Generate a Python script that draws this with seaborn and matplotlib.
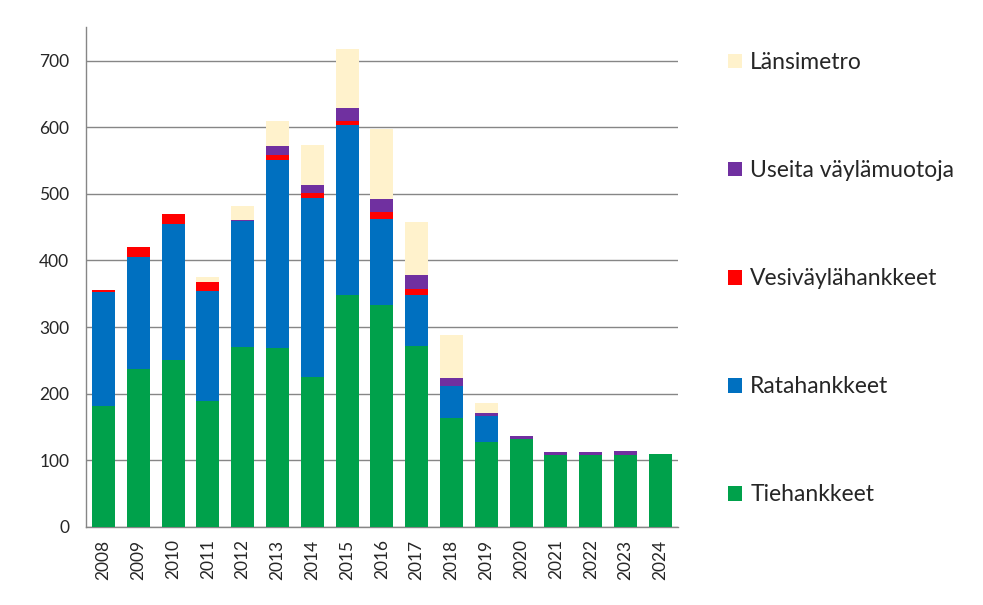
import numpy as np
import matplotlib
matplotlib.use("Agg")
import matplotlib.pyplot as plt
import seaborn as sns
from matplotlib.patches import Patch

# Data
years = ["2008", "2009", "2010", "2011", "2012", "2013", "2014", "2015", "2016",
         "2017", "2018", "2019", "2020", "2021", "2022", "2023", "2024"]
tiehankkeet = [182, 237, 251, 189, 270, 269, 225, 348, 333, 272, 164, 128, 132, 108, 108, 108, 110]
ratahankkeet = [171, 168, 204, 165, 189, 282, 269, 255, 129, 76, 48, 39, 0, 0, 0, 0, 0]
vesivaylahankkeet = [2, 15, 15, 14, 0, 7, 7, 6, 11, 9, 0, 0, 0, 0, 0, 0, 0]
useita_vaylamuotoja = [0, 0, 0, 0, 2, 14, 12, 20, 19, 21, 12, 4, 5, 5, 5, 6, 0]
lansimetro = [0, 0, 0, 7, 21, 37, 60, 88, 105, 80, 64, 15, 0, 0, 0, 0, 0]

series = [
    ("Tiehankkeet", tiehankkeet, "#00A14B"),
    ("Ratahankkeet", ratahankkeet, "#0070C0"),
    ("Vesiväylähankkeet", vesivaylahankkeet, "#FF0000"),
    ("Useita väylämuotoja", useita_vaylamuotoja, "#7030A0"),
    ("Länsimetro", lansimetro, "#FFF2CC"),
]

sns.set_style("white")
plt.rcParams['font.family'] = ['Lato', 'DejaVu Sans']

fig = plt.figure(figsize=(9.83, 6.05), dpi=100)
ax = fig.add_axes([0.0875, 0.129, 0.602, 0.826])

# stacked bars, one layer per series
bottom = np.zeros(len(years))
for name, vals, col in series:
    vals = np.array(vals, dtype=float)
    sns.barplot(x=years, y=vals, bottom=bottom, color=col, width=0.66,
                saturation=1, ax=ax, linewidth=0, zorder=3)
    bottom += vals

ax.set_ylim(0, 750)
ax.set_yticks(range(0, 701, 100))
ax.set_xlim(-0.5, len(years) - 0.5)
ax.yaxis.grid(True, color="#868686", linewidth=1.0, zorder=0)
ax.set_axisbelow(True)
for s in ["top", "right"]:
    ax.spines[s].set_visible(False)
for s in ["left", "bottom"]:
    ax.spines[s].set_color("#868686")
    ax.spines[s].set_linewidth(1.0)
ax.tick_params(axis="y", length=0, labelsize=12.5, pad=12)
ax.tick_params(axis="x", length=0, labelsize=12.5, pad=9, rotation=90)
ax.set_xlabel("")
ax.set_ylabel("")

handles = [Patch(facecolor=col, edgecolor="none", label=name) for name, _, col in series][::-1]
fig.legend(handles=handles, loc="upper left", bbox_to_anchor=(0.7406, 0.914),
           frameon=False, fontsize=16.5, labelspacing=3.8, handlelength=0.62,
           handleheight=0.62, handletextpad=0.35, borderpad=0, borderaxespad=0)

fig.savefig("out.png", dpi=100)
